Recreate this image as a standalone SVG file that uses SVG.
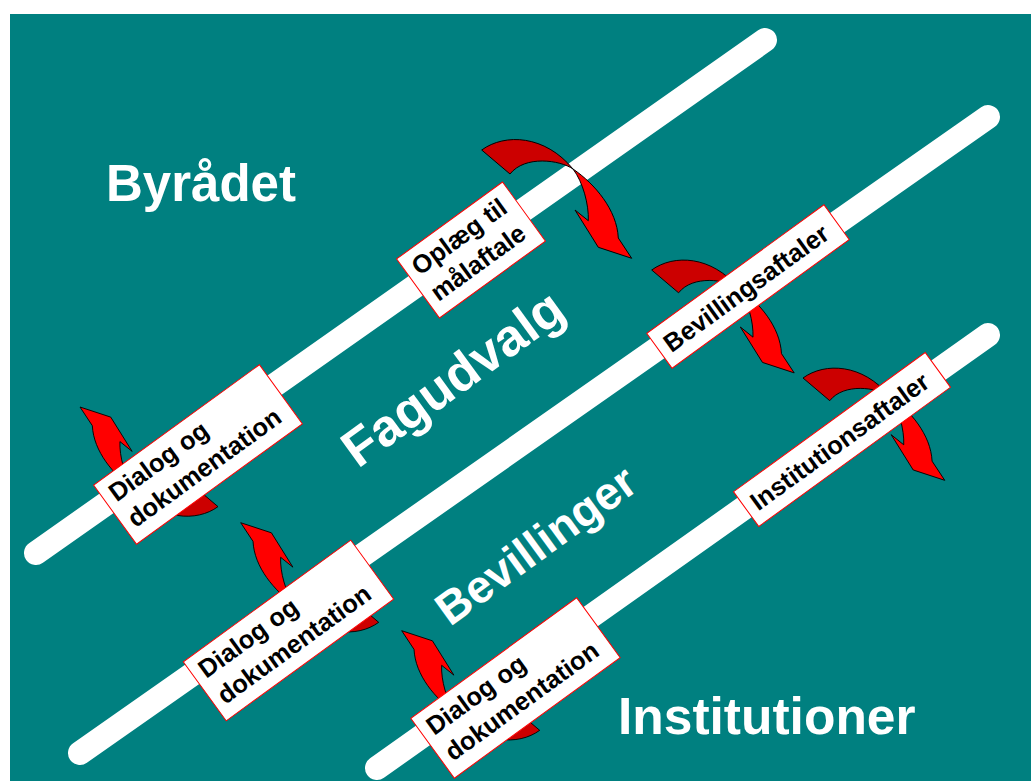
<svg xmlns="http://www.w3.org/2000/svg" xmlns:xlink="http://www.w3.org/1999/xlink" width="1031" height="781" viewBox="0 0 1031 781">
<style>
.bar{stroke:#fff;stroke-width:24;stroke-linecap:round;fill:none}
.box{fill:#fff;stroke:#ff0000;stroke-width:1}
.lbl{font-family:"Liberation Sans",Arial,sans-serif;font-weight:bold;font-size:25.5px;fill:#000}
.big{font-family:"Liberation Sans",Arial,sans-serif;font-weight:bold;fill:#fff}
.dark{fill:#cc0000;stroke:#000;stroke-width:1;stroke-linejoin:round}
.bright{fill:#ff0000;stroke:#000;stroke-width:1;stroke-linejoin:round}
</style>
<defs>
<g id="curvedArrow">
<path class="dark" d="M481.7,150 C505,133 545,135 573,169 C560,160 525,155 510,174 Z"/>
<path class="bright" d="M573,169 C595,184 617,210 618.3,238 L631.7,258.3 L598.3,247.3 L575,210 L588.3,220.7 C589,205 583,182 573,169 Z"/>
</g>
</defs>
<rect x="0" y="0" width="1031" height="781" fill="#fff"/>
<rect x="10" y="14" width="1021" height="767" fill="#008080"/>
<g id="bars">
<line class="bar" x1="36" y1="553" x2="765" y2="40"/>
<line class="bar" x1="80" y1="753" x2="988" y2="117"/>
<line class="bar" x1="377" y1="768" x2="988" y2="335"/>
</g>
<g id="connectors">
<use xlink:href="#curvedArrow"/>
<use xlink:href="#curvedArrow" transform="translate(651.7,270) scale(0.95) translate(-481.7,-150)"/>
<use xlink:href="#curvedArrow" transform="translate(803,378) scale(0.945) translate(-481.7,-150)"/>
<use xlink:href="#curvedArrow" transform="translate(80,407) rotate(180) scale(0.92) translate(-631.7,-258.3)"/>
<use xlink:href="#curvedArrow" transform="translate(240.7,522.7) rotate(180) scale(0.92) translate(-631.7,-258.3)"/>
<use xlink:href="#curvedArrow" transform="translate(401.7,630.7) rotate(180) scale(0.92) translate(-631.7,-258.3)"/>
</g>
<g id="label-oplaeg" transform="translate(471,250) rotate(-36)">
<rect class="box" x="-65.5" y="-36.5" width="131" height="73"/>
<text class="lbl" x="-57" y="-9">Oplæg til</text>
<text class="lbl" x="-57" y="23">målaftale</text>
</g>
<g id="label-bevillingsaftaler" transform="translate(748,286.5) rotate(-36)">
<rect class="box" x="-109.5" y="-21.5" width="219" height="43"/>
<text class="lbl" x="-101" y="9">Bevillingsaftaler</text>
</g>
<g id="label-institutionsaftaler" transform="translate(842,439.5) rotate(-36)">
<rect class="box" x="-118.5" y="-21.5" width="237" height="43"/>
<text class="lbl" x="-110" y="9">Institutionsaftaler</text>
</g>
<g id="label-dialog1" transform="translate(198,454.5) rotate(-36)">
<rect class="box" x="-102.5" y="-36.5" width="205" height="73"/>
<text class="lbl" x="-94" y="-9">Dialog og</text>
<text class="lbl" x="-94" y="23">dokumentation</text>
</g>
<g id="label-dialog2" transform="translate(288.5,630.5) rotate(-36)">
<rect class="box" x="-103.5" y="-36.5" width="207" height="73"/>
<text class="lbl" x="-95" y="-9">Dialog og</text>
<text class="lbl" x="-95" y="23">dokumentation</text>
</g>
<g id="label-dialog3" transform="translate(515.5,688) rotate(-36)">
<rect class="box" x="-102.5" y="-37" width="205" height="74"/>
<text class="lbl" x="-94" y="-9">Dialog og</text>
<text class="lbl" x="-94" y="23">dokumentation</text>
</g>
<g id="title-byraadet"><text class="big" x="106" y="201" font-size="51">Byrådet</text></g>
<g id="title-fagudvalg"><text class="big" font-size="52" transform="translate(358,469) rotate(-36)">Fagudvalg</text></g>
<g id="title-bevillinger"><text class="big" font-size="46" transform="translate(450,627) rotate(-36)">Bevillinger</text></g>
<g id="title-institutioner"><text class="big" x="618" y="734" font-size="51.5">Institutioner</text></g>
</svg>
